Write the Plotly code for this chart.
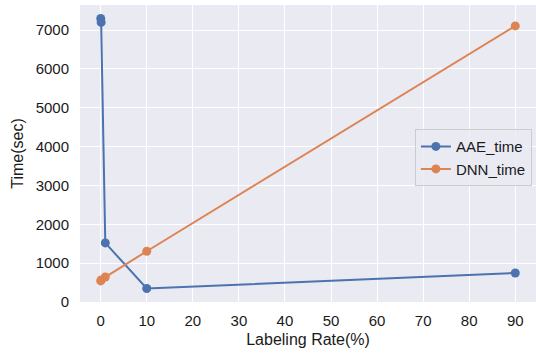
import plotly.graph_objects as go

# Labeling rates (%) and training times (sec)
labeling_rate = [0.01, 0.1, 1, 10, 90]
aae_time = [7300, 7200, 1520, 345, 745]
dnn_time = [540, 565, 640, 1305, 7110]

x_ticks = [0, 10, 20, 30, 40, 50, 60, 70, 80, 90]
y_ticks = [0, 1000, 2000, 3000, 4000, 5000, 6000, 7000]

BLUE = "#4C72B0"
ORANGE = "#DD8452"
FONT = "Liberation Sans, Arial, sans-serif"

fig = go.Figure()
fig.add_trace(go.Scatter(
    x=labeling_rate, y=aae_time, name="AAE_time", mode="lines+markers",
    line=dict(color=BLUE, width=2), marker=dict(color=BLUE, size=9),
))
fig.add_trace(go.Scatter(
    x=labeling_rate, y=dnn_time, name="DNN_time", mode="lines+markers",
    line=dict(color=ORANGE, width=2), marker=dict(color=ORANGE, size=9),
))

# matplotlib-style 5% padding around the data
xmin, xmax = min(labeling_rate), max(labeling_rate)
ally = aae_time + dnn_time
ymin, ymax = min(ally), max(ally)
xpad = 0.05 * (xmax - xmin)
ypad = 0.05 * (ymax - ymin)

fig.update_layout(
    width=536, height=354,
    margin=dict(l=80, r=0, t=5, b=52),
    paper_bgcolor="white",
    plot_bgcolor="#EAEAF2",
    font=dict(family=FONT, size=15, color="#1a1a1a"),
    showlegend=True,
    legend=dict(
        x=0.991, y=0.582, xanchor="right", yanchor="top",
        bgcolor="rgba(234,234,242,0.8)", bordercolor="#CCCCCC", borderwidth=1,
        font=dict(size=15, color="#1a1a1a"),
    ),
)
fig.update_xaxes(
    range=[xmin - xpad, xmax + xpad],
    tickvals=x_ticks, ticktext=[str(v) for v in x_ticks],
    showgrid=True, gridcolor="white", gridwidth=1.3,
    zeroline=False, showline=False, ticks="", ticklabelstandoff=8,
    title=dict(text="Labeling Rate(%)", font=dict(size=16), standoff=5),
)
fig.update_yaxes(
    range=[ymin - ypad, ymax + ypad],
    tickvals=y_ticks, ticktext=[str(v) for v in y_ticks],
    showgrid=True, gridcolor="white", gridwidth=1.3,
    zeroline=False, showline=False, ticks="", ticklabelstandoff=10,
    title=dict(text="Time(sec)", font=dict(size=16), standoff=8),
)

fig.write_html("out.html")
